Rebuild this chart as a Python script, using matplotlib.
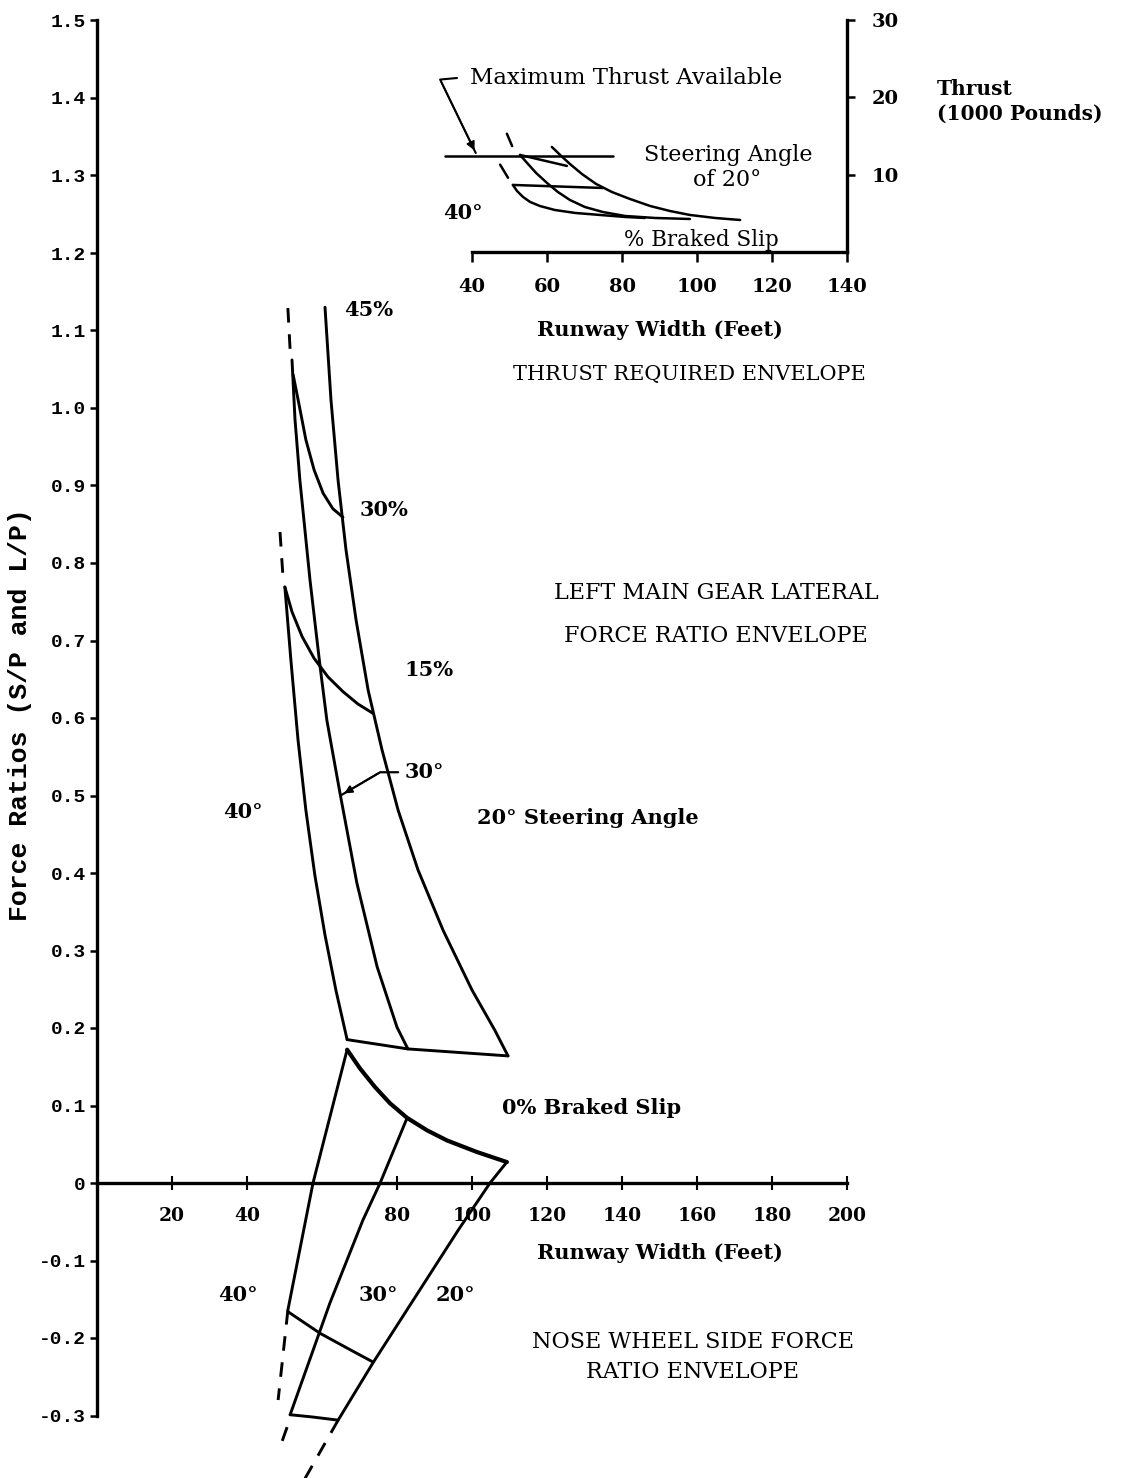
import numpy as np
import matplotlib
matplotlib.use("Agg")
import matplotlib.pyplot as plt

# ---- main chart: force ratio vs runway width ----
y_ticks = [1.5, 1.4, 1.3, 1.2, 1.1, 1.0, 0.9, 0.8, 0.7, 0.6, 0.5, 0.4, 0.3, 0.2, 0.1, 0, -0.1, -0.2, -0.3]
y_tick_labels = ["1.5", "1.4", "1.3", "1.2", "1.1", "1.0", "0.9", "0.8", "0.7", "0.6", "0.5",
                 "0.4", "0.3", "0.2", "0.1", "0", "-0.1", "-0.2", "-0.3"]
x_ticks = [20, 40, 80, 100, 120, 140, 160, 180, 200]

# left main gear lateral force ratio envelope
lm_20_x = [60.8, 62.4, 64.3, 66.4, 69.1, 72.3, 76.0, 80.3, 85.6, 92.3, 100.0, 106.1, 109.6]
lm_20_y = [1.130, 1.010, 0.906, 0.817, 0.726, 0.636, 0.559, 0.481, 0.404, 0.326, 0.249, 0.197, 0.164]
lm_30_x = [52.0, 52.8, 54.1, 56.8, 59.5, 61.3, 64.8, 69.3, 74.7, 80.0, 82.9]
lm_30_y = [1.062, 0.985, 0.907, 0.778, 0.666, 0.597, 0.503, 0.387, 0.279, 0.201, 0.173]
lm_40_x = [50.1, 51.7, 53.6, 55.7, 58.1, 60.8, 63.7, 66.7]
lm_40_y = [0.769, 0.675, 0.572, 0.481, 0.397, 0.320, 0.249, 0.185]
lm_slip30_x = [52.3, 53.9, 55.7, 57.9, 60.3, 62.9, 65.6]
lm_slip30_y = [1.043, 1.004, 0.959, 0.920, 0.890, 0.870, 0.859]
lm_slip15_x = [50.1, 52.0, 54.7, 57.9, 61.6, 65.6, 69.6, 73.6]
lm_slip15_y = [0.769, 0.737, 0.705, 0.677, 0.653, 0.634, 0.618, 0.606]
lm_slip0_x = [66.7, 82.9, 109.6]
lm_slip0_y = [0.185, 0.173, 0.164]
lm_dash1_x = [50.9, 51.5]
lm_dash1_y = [1.129, 1.075]
lm_dash2_x = [48.8, 49.6]
lm_dash2_y = [0.840, 0.782]
lm_arrow_x = [80.3, 75.5, 65.3]
lm_arrow_y = [0.530, 0.530, 0.501]

# nose wheel side force ratio envelope
nw_slip0_x = [66.7, 70.1, 74.1, 78.1, 82.7, 88.0, 93.3, 101.3, 109.3]
nw_slip0_y = [0.172, 0.148, 0.124, 0.103, 0.084, 0.068, 0.055, 0.040, 0.027]
nw_40_x = [66.7, 57.6, 50.9]
nw_40_y = [0.172, 0.0, -0.164]
nw_30_x = [82.7, 75.5, 70.9, 62.1, 51.5]
nw_30_y = [0.084, 0.0, -0.048, -0.155, -0.299]
nw_20_x = [109.3, 104.8, 96.3, 73.6, 64.3]
nw_20_y = [0.027, 0.0, -0.061, -0.232, -0.306]
nw_mid_x = [50.9, 59.5, 66.7, 73.6]
nw_mid_y = [-0.166, -0.194, -0.213, -0.231]
nw_low_x = [51.5, 57.6, 64.3]
nw_low_y = [-0.299, -0.302, -0.306]
nw_dash40_x = [50.9, 48.3]
nw_dash40_y = [-0.164, -0.280]
nw_dash30_x = [50.7, 48.5]
nw_dash30_y = [-0.315, -0.345]
nw_dash20_x = [64.3, 55.5]
nw_dash20_y = [-0.306, -0.381]

# ---- inset: thrust required envelope ----
th_x_ticks = [40, 60, 80, 100, 120, 140]
th_y_ticks = [10, 20, 30]
th_max_x = [32.8, 77.6]
th_max_y = [12.4, 12.4]
th_40_x = [50.9, 52.0, 53.6, 55.5, 58.1, 62.1, 67.5, 74.1, 80.8, 86.1]
th_40_y = [8.67, 7.89, 7.12, 6.47, 5.95, 5.43, 5.05, 4.79, 4.53, 4.40]
th_30_x = [52.8, 54.7, 57.1, 60.0, 62.9, 66.1, 70.1, 74.9, 80.8, 88.8, 98.1]
th_30_y = [12.55, 11.51, 10.22, 8.93, 7.76, 6.73, 5.82, 5.17, 4.66, 4.40, 4.27]
th_20_x = [61.3, 63.5, 66.1, 69.3, 73.1, 77.3, 82.1, 87.5, 92.8, 98.1, 104.8, 111.5]
th_20_y = [13.58, 12.55, 11.39, 10.09, 8.80, 7.76, 6.86, 5.95, 5.30, 4.79, 4.40, 4.14]
th_slip_top_x = [52.8, 65.3]
th_slip_top_y = [12.55, 11.13]
th_slip_mid_x = [50.9, 74.9]
th_slip_mid_y = [8.67, 8.28]
th_dash_a_x = [49.3, 50.7]
th_dash_a_y = [15.3, 13.7]
th_dash_b_x = [47.5, 49.6]
th_dash_b_y = [11.3, 9.6]
th_arrow_x = [36.0, 31.5, 41.0]
th_arrow_y = [22.5, 22.3, 12.8]

W, H = 1126, 1478
fig = plt.figure(figsize=(W / 100, H / 100), dpi=100)
fig.patch.set_facecolor("white")

serif = "DejaVu Serif"
mono = "Liberation Mono"
lw = 2.1

ax = fig.add_axes([97 / W, 0, (W - 97) / W, 1])
ax.set_xlim(0, (W - 97) / 3.75)
ax.set_ylim((1183 - H) / 775, 1183 / 775)
ax.patch.set_alpha(0)
for s in ["top", "right"]:
    ax.spines[s].set_visible(False)
ax.spines["left"].set_bounds(-0.3, 1.5)
ax.spines["left"].set_linewidth(2.4)
ax.spines["bottom"].set_position(("data", 0))
ax.spines["bottom"].set_bounds(0, 200)
ax.spines["bottom"].set_linewidth(2.4)
ax.set_yticks(y_ticks)
ax.set_yticklabels(y_tick_labels, fontfamily=mono, fontweight="bold", fontsize=14)
ax.set_xticks(x_ticks)
ax.set_xticklabels([str(t) for t in x_ticks], fontfamily=serif, fontweight="bold", fontsize=13.5)
ax.tick_params(axis="y", direction="out", length=5, width=1.8, pad=3)
ax.tick_params(axis="x", direction="inout", length=10, width=1.5, pad=12)

def line(a, xs, ys, width=lw, **kw):
    a.plot(xs, ys, color="black", lw=width, solid_capstyle="round", solid_joinstyle="round",
           clip_on=False, **kw)

for xs, ys in [(lm_20_x, lm_20_y), (lm_30_x, lm_30_y), (lm_40_x, lm_40_y),
               (lm_slip30_x, lm_slip30_y), (lm_slip15_x, lm_slip15_y), (lm_slip0_x, lm_slip0_y),
               (nw_40_x, nw_40_y), (nw_30_x, nw_30_y), (nw_20_x, nw_20_y),
               (nw_mid_x, nw_mid_y), (nw_low_x, nw_low_y)]:
    line(ax, xs, ys)
line(ax, nw_slip0_x, nw_slip0_y, width=3.0)
for xs, ys in [(lm_dash1_x, lm_dash1_y), (lm_dash2_x, lm_dash2_y), (nw_dash40_x, nw_dash40_y),
               (nw_dash30_x, nw_dash30_y), (nw_dash20_x, nw_dash20_y)]:
    line(ax, xs, ys, linestyle=(0, (5, 4)))
line(ax, lm_arrow_x, lm_arrow_y, width=1.6)
ax.annotate("", xy=(lm_arrow_x[-1], lm_arrow_y[-1]), xytext=(lm_arrow_x[-2], lm_arrow_y[-2]),
            arrowprops=dict(arrowstyle="-|>", color="black", lw=1.2, mutation_scale=12))

tb = dict(fontfamily=serif, fontweight="bold", fontsize=15)
tn = dict(fontfamily=serif, fontsize=16)
ax.text(66.0, 1.126, "45%", va="center", **tb)
ax.text(70.1, 0.869, "30%", va="center", **tb)
ax.text(82.1, 0.662, "15%", va="center", **tb)
ax.text(82.0, 0.530, "30°", va="center", **tb)
ax.text(33.5, 0.479, "40°", va="center", **tb)
ax.text(101.3, 0.471, "20° Steering Angle", va="center", **tb)
ax.text(165.1, 0.761, "LEFT MAIN GEAR LATERAL", ha="center", va="center", **tn)
ax.text(165.1, 0.706, "FORCE RATIO ENVELOPE", ha="center", va="center", **tn)
ax.text(132.0, 0.097, "0% Braked Slip", ha="center", va="center", **tb)
ax.text(150.1, -0.090, "Runway Width (Feet)", ha="center", va="center", **tb)
ax.text(37.5, -0.145, "40°", ha="center", va="center", **tb)
ax.text(75.0, -0.145, "30°", ha="center", va="center", **tb)
ax.text(95.5, -0.145, "20°", ha="center", va="center", **tb)
ax.text(158.9, -0.205, "NOSE WHEEL SIDE FORCE", ha="center", va="center", **tn)
ax.text(158.9, -0.244, "RATIO ENVELOPE", ha="center", va="center", **tn)
fig.text(20 / W, 1 - 715 / H, "Force Ratios (S/P and L/P)", rotation=90, ha="center", va="center",
         fontfamily=mono, fontweight="bold", fontsize=19)

# inset axes
ax2 = fig.add_axes([472 / W, 1 - 252 / H, 375 / W, 232 / H])
ax2.set_xlim(40, 140)
ax2.set_ylim(0, 30)
ax2.patch.set_alpha(0)
for s in ["top", "left"]:
    ax2.spines[s].set_visible(False)
ax2.spines["right"].set_linewidth(2.4)
ax2.spines["bottom"].set_linewidth(2.4)
ax2.yaxis.tick_right()
ax2.set_yticks(th_y_ticks)
ax2.set_yticklabels([str(t) for t in th_y_ticks], fontfamily=serif, fontweight="bold", fontsize=14)
ax2.set_xticks(th_x_ticks)
ax2.set_xticklabels([str(t) for t in th_x_ticks], fontfamily=serif, fontweight="bold", fontsize=14)
ax2.tick_params(axis="y", direction="out", length=6, width=1.8, pad=12)
ax2.tick_params(axis="x", direction="out", length=7, width=1.8, pad=12)

for xs, ys in [(th_max_x, th_max_y), (th_40_x, th_40_y), (th_30_x, th_30_y), (th_20_x, th_20_y),
               (th_slip_top_x, th_slip_top_y), (th_slip_mid_x, th_slip_mid_y),
               (th_dash_a_x, th_dash_a_y), (th_dash_b_x, th_dash_b_y)]:
    line(ax2, xs, ys, width=1.8)
line(ax2, th_arrow_x, th_arrow_y, width=1.5)
ax2.annotate("", xy=(th_arrow_x[-1], th_arrow_y[-1]), xytext=(th_arrow_x[-2], th_arrow_y[-2]),
             arrowprops=dict(arrowstyle="-|>", color="black", lw=1.2, mutation_scale=13))

ax2.text(39.5, 22.5, "Maximum Thrust Available", va="center", fontfamily=serif, fontsize=16.5)
ax2.text(108.3, 12.5, "Steering Angle", ha="center", va="center", **tn)
ax2.text(108.0, 9.3, "of 20°", ha="center", va="center", **tn)
ax2.text(37.5, 5.0, "40°", ha="center", va="center", **tb)
ax2.text(101.3, 1.6, "% Braked Slip", ha="center", va="center", fontfamily=serif, fontsize=15.5)
ax2.text(90.1, -10.1, "Runway Width (Feet)", ha="center", va="center", **tb)
ax2.text(97.9, -15.9, "THRUST REQUIRED ENVELOPE", ha="center", va="center", fontfamily=serif, fontsize=15)
ax2.text(164.0, 19.5, "Thrust\n(1000 Pounds)", ha="left", va="center", linespacing=1.3,
         fontfamily=serif, fontweight="bold", fontsize=14.5)

fig.savefig("out.png", dpi=100, facecolor="white")
